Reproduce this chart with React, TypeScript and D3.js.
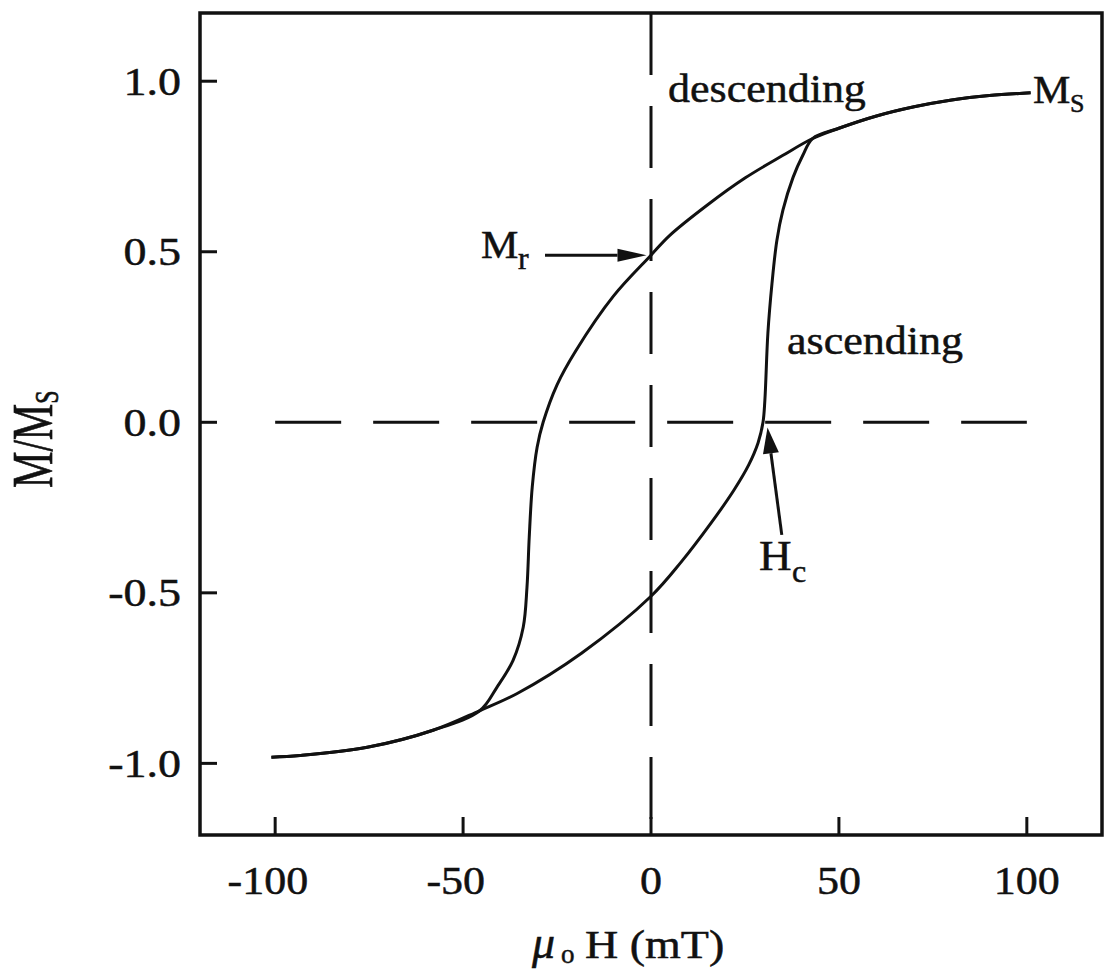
import React from "react";
import * as d3 from "d3";

const WIDTH = 1104;
const HEIGHT = 972;
const FONT = "'Liberation Serif', 'Times New Roman', Times, serif";

// Axis ticks
const fieldTicks = [-100, -50, 0, 50, 100];
const magTicks = [-1.0, -0.5, 0.0, 0.5, 1.0];
const magTickLabels = ["-1.0", "-0.5", "0.0", "0.5", "1.0"];

// Descending branch (field swept from +saturation to -saturation), mT and M/Ms
const descendingField = [
  101, 90, 80, 70, 60, 50, 43, 35, 25, 15, 5, 0, -10, -20, -25, -28.7,
  -30.3, -31.6, -32.4, -33, -34, -36.7, -41, -45.5, -58, -75.5, -93.4, -101,
];
const descendingMag = [
  0.966, 0.958, 0.945, 0.925, 0.898, 0.862, 0.832, 0.782, 0.716, 0.637, 0.548,
  0.49, 0.37, 0.21, 0.11, 0.0, -0.073, -0.19, -0.337, -0.484, -0.601, -0.698,
  -0.777, -0.845, -0.903, -0.953, -0.977, -0.982,
];

// Ascending branch (field swept from -saturation to +saturation)
const ascendingField = [
  -101, -93.4, -75.5, -58, -45.5, -35.6, -18.5, 0, 8, 16, 22, 26, 28.5, 29.8,
  30.3, 31.1, 32.2, 33.5, 35.1, 37.8, 40.4, 43, 50, 60, 70, 80, 90, 101,
];
const ascendingMag = [
  -0.982, -0.977, -0.953, -0.903, -0.845, -0.795, -0.677, -0.51, -0.41, -0.295,
  -0.2, -0.125, -0.06, 0.0, 0.065, 0.261, 0.408, 0.534, 0.622, 0.718, 0.783,
  0.832, 0.862, 0.898, 0.925, 0.945, 0.958, 0.966,
];

// Reference dashed line along M = 0
const zeroLineField = [-100, 100];

// Annotation arrows: [field, M/Ms] of tail and tip
const remanenceArrow = [
  [-28.2, 0.49],
  [-1.2, 0.49],
];
const coercivityArrow = [
  [34.8, -0.33],
  [31.0, -0.015],
];

type Pt = [number, number];

const INK = "#111";

function Arrow({ from, to, len, half }: { from: Pt; to: Pt; len: number; half: number }) {
  const dx = to[0] - from[0];
  const dy = to[1] - from[1];
  const d = Math.hypot(dx, dy);
  const ux = dx / d;
  const uy = dy / d;
  const bx = to[0] - ux * len;
  const by = to[1] - uy * len;
  const px = -uy * half;
  const py = ux * half;
  return (
    <g>
      <line x1={from[0]} y1={from[1]} x2={bx} y2={by} stroke={INK} strokeWidth={3} />
      <polygon
        points={`${to[0]},${to[1]} ${bx + px},${by + py} ${bx - px},${by - py}`}
        fill={INK}
      />
    </g>
  );
}

export default function App() {
  const x = d3.scaleLinear().domain([-120, 120]).range([200, 1102]);
  const y = d3.scaleLinear().domain([-1.21, 1.2]).range([835, 13]);

  const line = d3
    .line<Pt>()
    .x((d) => x(d[0]))
    .y((d) => y(d[1]))
    .curve(d3.curveCatmullRom.alpha(0.5));

  const desc: Pt[] = descendingField.map((h, i) => [h, descendingMag[i]]);
  const asc: Pt[] = ascendingField.map((h, i) => [h, ascendingMag[i]]);

  const [x0, x1] = x.range();
  const [yb, yt] = y.range();

  const fs = 40;
  const sx = 1.1;

  const toPx = (p: number[]): Pt => [x(p[0]), y(p[1])];

  const textStyle = { fill: INK, stroke: INK, strokeWidth: 0.5 };

  return (
    <svg
      width={WIDTH}
      height={HEIGHT}
      style={{ position: "absolute", left: 0, top: 0, background: "#fff" }}
      fontFamily={FONT}
    >
      <rect width={WIDTH} height={HEIGHT} fill="#fff" />

      {/* dashed zero lines */}
      <line
        x1={x(zeroLineField[0])}
        x2={x(zeroLineField[1])}
        y1={y(0)}
        y2={y(0)}
        stroke={INK}
        strokeWidth={3}
        strokeDasharray="66 32"
      />
      <line
        x1={x(0)}
        x2={x(0)}
        y1={yt}
        y2={yb}
        stroke={INK}
        strokeWidth={3}
        strokeDasharray="62 31"
      />

      {/* hysteresis branches */}
      <path d={line(desc) ?? ""} fill="none" stroke={INK} strokeWidth={3} />
      <path d={line(asc) ?? ""} fill="none" stroke={INK} strokeWidth={3} />

      {/* frame */}
      <rect
        x={x0}
        y={yt}
        width={x1 - x0}
        height={yb - yt}
        fill="none"
        stroke={INK}
        strokeWidth={3.5}
      />

      <g style={textStyle}>
        {/* y ticks */}
        {magTicks.map((v, i) => (
          <g key={"yt" + i}>
            <line x1={x0} x2={x0 + 17} y1={y(v)} y2={y(v)} stroke={INK} strokeWidth={3} />
            <text
              transform={`translate(181,${y(v) + 13.5}) scale(1.15,1)`}
              textAnchor="end"
              fontSize={fs}
            >
              {magTickLabels[i]}
            </text>
          </g>
        ))}

        {/* x ticks */}
        {fieldTicks.map((v) => {
          const digits = String(Math.abs(v));
          const half = (digits.length * 0.5 * fs * sx) / 2;
          const start = x(v) - half - (v < 0 ? 0.333 * fs * sx : 0);
          return (
            <g key={"xt" + v}>
              <line x1={x(v)} x2={x(v)} y1={yb} y2={yb - 18} stroke={INK} strokeWidth={3} />
              <text
                transform={`translate(${start},894) scale(${sx},1)`}
                textAnchor="start"
                fontSize={fs}
              >
                {String(v)}
              </text>
            </g>
          );
        })}

        {/* x axis title */}
        <text x={532} y={958} fontSize={46} fontStyle="italic">
          μ
        </text>
        <text x={561} y={963} fontSize={27}>
          o
        </text>
        <text transform="translate(585,958) scale(1.15,1)" fontSize={fs}>
          H (mT)
        </text>

        {/* y axis title */}
        <text transform="translate(52,488) scale(1.38,1) rotate(-90)" fontSize={41}>
          M/M
          <tspan dy={4.5} fontSize={24}>
            S
          </tspan>
        </text>

        {/* branch labels */}
        <text transform="translate(668,102) scale(1.1,1)" fontSize={fs}>
          descending
        </text>
        <text transform="translate(787,354) scale(1.1,1)" fontSize={fs}>
          ascending
        </text>

        {/* Ms label */}
        <text transform="translate(1033,103) scale(1.05,1)" fontSize={fs}>
          M
        </text>
        <text x={1070} y={112} fontSize={26}>
          S
        </text>

        {/* Mr label */}
        <text transform="translate(481,258) scale(1.05,1)" fontSize={fs}>
          M
        </text>
        <text x={518} y={269} fontSize={32}>
          r
        </text>

        {/* Hc label */}
        <text transform="translate(759,570) scale(1.05,1)" fontSize={43}>
          H
        </text>
        <text x={792} y={582} fontSize={32}>
          c
        </text>
      </g>

      <Arrow from={toPx(remanenceArrow[0])} to={toPx(remanenceArrow[1])} len={29} half={6.5} />
      <Arrow from={toPx(coercivityArrow[0])} to={toPx(coercivityArrow[1])} len={26} half={8} />
    </svg>
  );
}
